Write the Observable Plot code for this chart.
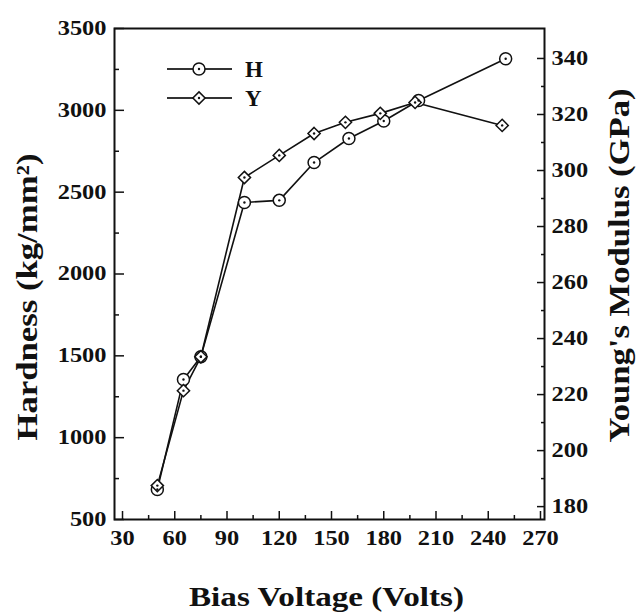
<!DOCTYPE html>
<html><head><meta charset="utf-8">
<script src="https://cdn.jsdelivr.net/npm/d3@7"></script>
<script src="https://cdn.jsdelivr.net/npm/@observablehq/plot@0.6"></script>
<style>
body{margin:0;background:#fff;}
#wrap{position:relative;width:636px;height:613px;}
#wrap svg text{font-family:'Liberation Serif','Times New Roman',serif;font-weight:bold;}
#legend{position:absolute;left:0;top:0;pointer-events:none;}
</style>
</head><body><div id="wrap"></div>
<script>
// Data
const biasH = [50, 65, 75, 100, 120, 140, 160, 180, 200, 250];
const hardness = [683, 1355, 1495, 2437, 2450, 2681, 2828, 2935, 3060, 3315];
const biasY = [50, 65, 75, 100, 120, 140, 158, 178, 198, 248];
const modulus = [187.5, 221.4, 233.5, 297.5, 305.4, 313.2, 317.2, 320.4, 324.3, 316.1];

const xTicks = [30, 60, 90, 120, 150, 180, 210, 240, 270];
const xMinor = [45, 75, 105, 135, 165, 195, 225, 255];
const hTicks = [500, 1000, 1500, 2000, 2500, 3000, 3500];
const hMinor = [750, 1250, 1750, 2250, 2750, 3250];
const yTicks = [180, 200, 220, 240, 260, 280, 300, 320, 340];
const yMinor = [190, 210, 230, 250, 270, 290, 310, 330];

const xLabel = "Bias Voltage (Volts)";
const hLabel = "Hardness (kg/mm²)";
const yLabel = "Young's Modulus (GPa)";

// secondary axis mapping (GPa -> hardness scale)
const toH = d3.scaleLinear().domain([175.4, 350.7]).range([500, 3500]);

const H = biasH.map((b, i) => ({bias: b, v: hardness[i]}));
const Y = biasY.map((b, i) => ({bias: b, v: toH(modulus[i])}));

const chart = Plot.plot({
  width: 636, height: 613,
  marginLeft: 114, marginRight: 92, marginTop: 28, marginBottom: 94,
  style: {fontFamily: "'Liberation Serif','Times New Roman',serif", fontWeight: "bold", fontSize: "20px", color: "#111", background: "#fff"},
  x: {domain: [25.4, 272.3]},
  y: {domain: [500, 3500]},
  marks: [
    Plot.axisX(xTicks, {tickSize: -8, tickPadding: 19, fontSize: 20, label: null, strokeWidth: 1.5, tickFormat: d => String(d)}),
    Plot.axisX(xMinor, {tickSize: -4, tickFormat: () => "", label: null, strokeWidth: 1.5}),
    Plot.axisY(hTicks, {anchor: "left", tickSize: -10, tickPadding: 18, fontSize: 20, label: null, strokeWidth: 1.5, tickFormat: d => String(d)}),
    Plot.axisY(hMinor, {anchor: "left", tickSize: -5, tickFormat: () => "", label: null, strokeWidth: 1.5}),
    Plot.axisY(yTicks.map(toH), {anchor: "right", tickSize: -8, tickPadding: 15, fontSize: 20, label: null, strokeWidth: 1.5, tickFormat: h => String(Math.round(toH.invert(h)))}),
    Plot.axisY(yMinor.map(toH), {anchor: "right", tickSize: -4, tickFormat: () => "", label: null, strokeWidth: 1.5}),
    Plot.frame({stroke: "#111", strokeWidth: 2}),
    Plot.line(H, {x: "bias", y: "v", stroke: "#111", strokeWidth: 1.6}),
    Plot.line(Y, {x: "bias", y: "v", stroke: "#111", strokeWidth: 1.6}),
    Plot.dot(H, {x: "bias", y: "v", r: 6, fill: "#fff", stroke: "#111", strokeWidth: 1.5}),
    Plot.dot(Y, {x: "bias", y: "v", r: 5.5, symbol: "diamond2", fill: "#fff", stroke: "#111", strokeWidth: 1.5}),
    Plot.dot(H, {x: "bias", y: "v", r: 1.2, fill: "#111"}),
    Plot.dot(Y, {x: "bias", y: "v", r: 1.2, fill: "#111"}),
    Plot.text([xLabel], {frameAnchor: "bottom", text: d => d, dx: -3, dy: 86, fontSize: 27, fontWeight: "bold", textAnchor: "middle", lineAnchor: "bottom"}),
    Plot.text([hLabel], {frameAnchor: "left", text: d => d, rotate: -90, dx: -87, dy: 23, fontSize: 30, fontWeight: "bold", textAnchor: "middle", lineAnchor: "middle"}),
    Plot.text([yLabel], {frameAnchor: "right", text: d => d, rotate: -90, dx: 75, dy: -8.5, fontSize: 30, fontWeight: "bold", textAnchor: "middle", lineAnchor: "middle"})
  ]
});
// match the reference's wide type: stretch text to the measured lengths
chart.querySelectorAll('g[aria-label$="tick label"] text').forEach(t => {
  const s = t.textContent;
  if (s) {
    t.setAttribute("textLength", s.length * 12.2);
    t.setAttribute("lengthAdjust", "spacingAndGlyphs");
  }
});
const labelLengths = new Map([[xLabel, 275], [hLabel, 287], [yLabel, 354]]);
chart.querySelectorAll('g[aria-label="text"] text').forEach(t => {
  const L = labelLengths.get(t.textContent);
  if (L) {
    t.setAttribute("textLength", L);
    t.setAttribute("lengthAdjust", "spacingAndGlyphs");
  }
});
document.getElementById("wrap").appendChild(chart);

// in-plot legend overlay
const lg = d3.select("#wrap").append("svg").attr("id", "legend").attr("width", 636).attr("height", 613);
const legendItems = [{label: "H", sym: d3.symbolCircle, top: 69}, {label: "Y", sym: d3.symbolDiamond2, top: 98}];
legendItems.forEach(it => {
  const g = lg.append("g");
  g.append("line").attr("x1", 167).attr("x2", 232).attr("y1", it.top).attr("y2", it.top).attr("stroke", "#333").attr("stroke-width", 2);
  g.append("path").attr("d", d3.symbol(it.sym, it.label === "H" ? 113 : 95)()).attr("transform", `translate(199,${it.top})`).attr("fill", "#fff").attr("stroke", "#111").attr("stroke-width", 1.5);
  g.append("circle").attr("cx", 199).attr("cy", it.top).attr("r", 1.2).attr("fill", "#111");
  g.append("text").attr("x", 245).attr("y", it.top + 8).attr("font-size", 23).attr("font-weight", "bold").attr("font-family", "'Liberation Serif','Times New Roman',serif").attr("fill", "#111").text(it.label);
});
</script>
</body></html>
